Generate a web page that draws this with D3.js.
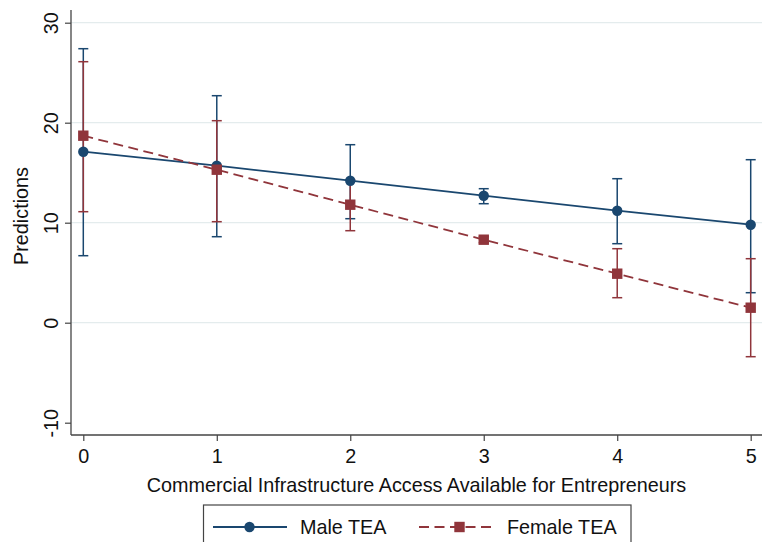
<!DOCTYPE html>
<html>
<head>
<meta charset="utf-8">
<script src="https://cdn.jsdelivr.net/npm/d3@7"></script>
<style>
  html, body { margin: 0; padding: 0; background: #fff; }
  svg { display: block; font-family: "Liberation Sans", Arial, Helvetica, sans-serif; }
</style>
</head>
<body>
<svg id="chart" width="767" height="542"></svg>
<script>
// Predicted TEA by level of commercial infrastructure access, with 95% CIs
const levels = [0, 1, 2, 3, 4, 5];

const maleTEA   = [17.1, 15.7, 14.2, 12.7, 11.2, 9.8];
const maleLow   = [6.7, 8.6, 10.4, 11.9, 7.9, 3.0];
const maleHigh  = [27.4, 22.7, 17.8, 13.4, 14.4, 16.3];

const femaleTEA  = [18.7, 15.3, 11.8, 8.3, 4.9, 1.5];
const femaleLow  = [11.1, 10.1, 9.2, 8.0, 2.5, -3.4];
const femaleHigh = [26.1, 20.2, 14.3, 8.6, 7.4, 6.4];

const yTicks = [-10, 0, 10, 20, 30];
const gridTicks = [0, 10, 20, 30];

const seriesNames = ["Male TEA", "Female TEA"];
const xTitle = "Commercial Infrastructure Access Available for Entrepreneurs";
const yTitle = "Predictions";

const navy = "#1a476f";
const maroon = "#90353b";
const fontSize = "19.8px";

const svg = d3.select("#chart");

const plot = { left: 71, right: 762, top: 10, bottom: 435 };

const x = d3.scaleLinear().domain([0, 5]).range([83.3, 750.7]);
const y = d3.scaleLinear().domain([-10, 30]).range([422.7, 22.7]);

// grid
svg.append("g")
  .selectAll("line")
  .data(gridTicks)
  .join("line")
  .attr("x1", plot.left).attr("x2", plot.right)
  .attr("y1", d => y(d)).attr("y2", d => y(d))
  .attr("stroke", "#e4eced")
  .attr("stroke-width", 1.2);

// y axis
const yAxis = svg.append("g")
  .attr("transform", `translate(${plot.left},0)`)
  .call(d3.axisLeft(y).tickValues(yTicks).tickSize(6).tickFormat(d => String(d)));
yAxis.select(".domain").attr("d", `M0,${plot.top}V${plot.bottom}`).attr("stroke", "#444").attr("stroke-width", 1.3);
yAxis.selectAll(".tick line").attr("stroke", "#444").attr("stroke-width", 1.2);
yAxis.selectAll(".tick text")
  .attr("transform", "rotate(-90)")
  .attr("x", 0).attr("y", -13)
  .attr("dy", 0)
  .attr("text-anchor", "middle")
  .attr("fill", "#111")
  .style("font-size", fontSize);

// x axis
const xAxis = svg.append("g")
  .attr("transform", `translate(0,${plot.bottom})`)
  .call(d3.axisBottom(x).tickValues(levels).tickSize(6).tickFormat(d => String(d)));
xAxis.select(".domain").attr("d", `M${plot.left},0H${plot.right}`).attr("stroke", "#444").attr("stroke-width", 1.3);
xAxis.selectAll(".tick line").attr("stroke", "#444").attr("stroke-width", 1.2);
xAxis.selectAll(".tick text")
  .attr("y", 28).attr("dy", 0)
  .attr("fill", "#111")
  .style("font-size", fontSize);

// axis titles
svg.append("text")
  .attr("x", (plot.left + plot.right) / 2)
  .attr("y", 491.5)
  .attr("text-anchor", "middle")
  .attr("fill", "#111")
  .style("font-size", fontSize)
  .text(xTitle);

svg.append("text")
  .attr("transform", `translate(28,216) rotate(-90)`)
  .attr("text-anchor", "middle")
  .attr("fill", "#111")
  .style("font-size", fontSize)
  .text(yTitle);

// confidence interval caps
function drawCI(low, high, color) {
  const g = svg.append("g").attr("stroke", color).attr("stroke-width", 1.5).attr("fill", "none");
  const capW = 5;
  levels.forEach((lv, i) => {
    const cx = x(lv);
    g.append("line").attr("x1", cx).attr("x2", cx).attr("y1", y(low[i])).attr("y2", y(high[i]));
    g.append("line").attr("x1", cx - capW).attr("x2", cx + capW).attr("y1", y(low[i])).attr("y2", y(low[i]));
    g.append("line").attr("x1", cx - capW).attr("x2", cx + capW).attr("y1", y(high[i])).attr("y2", y(high[i]));
  });
}
drawCI(maleLow, maleHigh, navy);
drawCI(femaleLow, femaleHigh, maroon);

const line = d3.line().x((d, i) => x(levels[i])).y(d => y(d));

// male series
svg.append("path")
  .datum(maleTEA)
  .attr("d", line)
  .attr("fill", "none")
  .attr("stroke", navy)
  .attr("stroke-width", 1.8);
svg.append("g")
  .selectAll("circle")
  .data(maleTEA)
  .join("circle")
  .attr("cx", (d, i) => x(levels[i]))
  .attr("cy", d => y(d))
  .attr("r", 5.2)
  .attr("fill", navy);

// female series
svg.append("path")
  .datum(femaleTEA)
  .attr("d", line)
  .attr("fill", "none")
  .attr("stroke", maroon)
  .attr("stroke-width", 1.8)
  .attr("stroke-dasharray", "10,5.5");
const sq = 10.4;
svg.append("g")
  .selectAll("rect")
  .data(femaleTEA)
  .join("rect")
  .attr("x", (d, i) => x(levels[i]) - sq / 2)
  .attr("y", d => y(d) - sq / 2)
  .attr("width", sq)
  .attr("height", sq)
  .attr("fill", maroon);

// legend
const lg = svg.append("g");
lg.append("rect")
  .attr("x", 203.5).attr("y", 505)
  .attr("width", 427.5).attr("height", 60)
  .attr("fill", "#fff")
  .attr("stroke", "#444")
  .attr("stroke-width", 1.2);

const ly = 527;
lg.append("line").attr("x1", 213).attr("x2", 287).attr("y1", ly).attr("y2", ly)
  .attr("stroke", navy).attr("stroke-width", 1.8);
lg.append("circle").attr("cx", 249.5).attr("cy", ly).attr("r", 5.2).attr("fill", navy);
lg.append("text").attr("x", 300).attr("y", 534).attr("fill", "#111")
  .style("font-size", fontSize).text(seriesNames[0]);

lg.append("line").attr("x1", 419).attr("x2", 494).attr("y1", ly).attr("y2", ly)
  .attr("stroke", maroon).attr("stroke-width", 1.8).attr("stroke-dasharray", "10,5.5");
lg.append("rect").attr("x", 459.5 - sq / 2).attr("y", ly - sq / 2)
  .attr("width", sq).attr("height", sq).attr("fill", maroon);
lg.append("text").attr("x", 507).attr("y", 534).attr("fill", "#111")
  .style("font-size", fontSize).text(seriesNames[1]);
</script>
</body>
</html>
